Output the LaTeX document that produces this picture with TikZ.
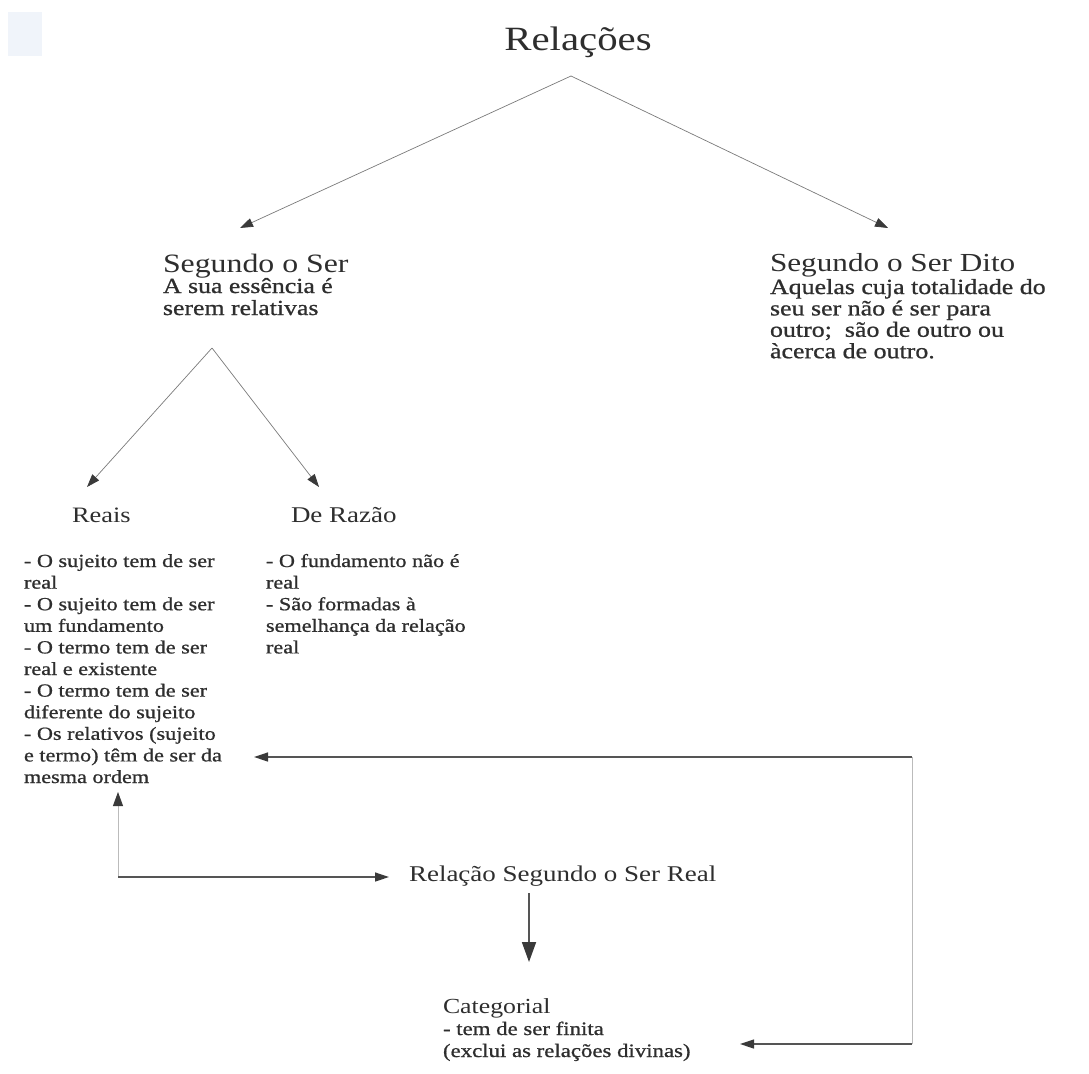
\documentclass[tikz,border=0pt]{standalone}
\usepackage{fontspec}
\setmainfont{Liberation Serif}[FakeStretch=1.2]
\newfontfamily\bodyf{Liberation Serif}[FakeStretch=1.2,FakeBold=0.9]
\usetikzlibrary{arrows.meta}
\newcommand\stk[1]{\begin{tabular}[t]{@{}l@{}}#1\end{tabular}}
\newcommand\fsz[2]{\fontsize{#1}{#2}\selectfont}
\definecolor{txt}{HTML}{2E2E2E}
\definecolor{thinln}{HTML}{7A7A7A}
\definecolor{darkln}{HTML}{555555}
\definecolor{lightln}{HTML}{BBBBBB}
\definecolor{tipc}{HTML}{3A3A3A}
\definecolor{scanblue}{HTML}{F0F4FA}
\begin{document}
\begin{tikzpicture}[x=1pt,y=-1pt,
  every node/.style={inner sep=0pt,outer sep=0pt,text=txt},
  txtnode/.style={anchor=base west},
  thinarr/.style={draw=thinln,line width=0.7pt,-{Triangle[length=13pt,width=9pt,color=tipc]}},
  hzarr/.style={draw=darkln,line width=1.3pt,-{Triangle[length=14pt,width=9pt,color=tipc]}},
  faintln/.style={draw=lightln,line width=0.8pt},
  faintarr/.style={draw=lightln,line width=0.8pt,-{Triangle[length=14pt,width=10pt,color=tipc]}},
  bigarr/.style={draw=darkln,line width=1.8pt,-{Triangle[length=20pt,width=14pt,color=tipc]}}]
\useasboundingbox (0,0) rectangle (1089,1073);
\fill[scanblue] (8,12) rectangle (42,56);

% titles
\node[anchor=base] (rel) at (578,51) {\fsz{34}{38}Relações};

\node[txtnode] (ss) at (163,272) {\fsz{26.5}{28}Segundo o Ser};
\node[txtnode] (ssdesc) at (163,293) {\bodyf\fsz{21.5}{22}\stk{A sua essência é\\serem relativas}};

\node[txtnode] (ssd) at (770,271) {\fsz{26}{28}Segundo o Ser Dito};
\node[txtnode] (ssddesc) at (770,294) {\bodyf\fsz{21.6}{21.3}\stk{Aquelas cuja totalidade do\\seu ser não é ser para\\outro;\ \ são de outro ou\\àcerca de outro.}};

\node[txtnode] (reais) at (72,522) {\fsz{22}{24}Reais};
\node[txtnode] (razao) at (291,522) {\fsz{22.5}{24}De Razão};

\node[txtnode] (reaislist) at (24,567) {\bodyf\fsz{18.5}{21.6}\stk{- O sujeito tem de ser\\real\\- O sujeito tem de ser\\um fundamento\\- O termo tem de ser\\real e existente\\- O termo tem de ser\\diferente do sujeito\\- Os relativos (sujeito\\e termo) têm de ser da\\mesma ordem}};
\node[txtnode] (razaolist) at (266,567) {\bodyf\fsz{18.5}{21.6}\stk{- O fundamento não é\\real\\- São formadas à\\semelhança da relação\\real}};

\node[txtnode] (rssr) at (409,881) {\fsz{22.5}{24}Relação Segundo o Ser Real};

\node[txtnode] (cat) at (443,1013) {\fsz{21.5}{23}Categorial};
\node[txtnode] (catdesc) at (443,1035) {\bodyf\fsz{19}{22}\stk{- tem de ser finita\\(exclui as relações divinas)}};

% coordinates
\coordinate (relA) at (571,76);
\coordinate (ssTip) at (240,228);
\coordinate (ssdTip) at (888,228);
\coordinate (ssA) at (212,348);
\coordinate (reaisTip) at (87,487);
\coordinate (razaoTip) at (319,487);
\coordinate (rightTop) at (912,757);
\coordinate (rightBot) at (912,1044);
\coordinate (listTip) at (254,757);
\coordinate (catTip) at (740,1044);
\coordinate (corner) at (118,877);
\coordinate (upTip) at (118,792);
\coordinate (rssrTip) at (389,877);
\coordinate (downFrom) at (529,893);
\coordinate (downTip) at (529,962);

% connectors
\draw[thinarr] (relA) -- (ssTip);
\draw[thinarr] (relA) -- (ssdTip);
\draw[thinarr] (ssA) -- (reaisTip);
\draw[thinarr] (ssA) -- (razaoTip);
\draw[hzarr] (rightTop) -- (listTip);
\draw[faintln] (rightTop) -- (rightBot);
\draw[hzarr] (rightBot) -- (catTip);
\draw[faintarr] (corner) -- (upTip);
\draw[hzarr] (corner) -- (rssrTip);
\draw[bigarr] (downFrom) -- (downTip);
\end{tikzpicture}
\end{document}
